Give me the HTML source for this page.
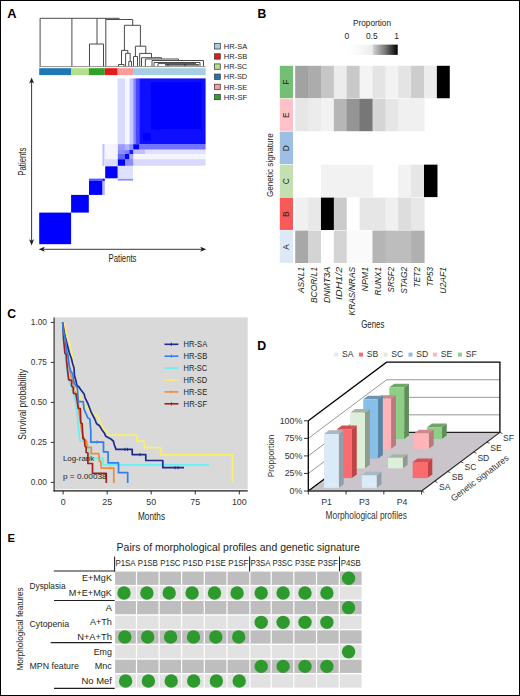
<!DOCTYPE html>
<html><head><meta charset="utf-8"><style>
html,body{margin:0;padding:0;background:#fff;overflow:hidden;}
svg{display:block;}
text{font-family:"Liberation Sans", sans-serif;}
</style></head><body>
<svg width="520" height="696" viewBox="0 0 520 696">
<rect x="0" y="0" width="520" height="696" fill="#fff"/>
<text x="7.3" y="17.6" font-size="12.8" fill="#000" font-weight="bold" >A</text>
<line x1="40.1" y1="18.3" x2="40.1" y2="66.5" stroke="#4a4a4a" stroke-width="1.0" />
<line x1="71.9" y1="18.3" x2="71.9" y2="66.5" stroke="#4a4a4a" stroke-width="1.0" />
<line x1="40.1" y1="18.3" x2="119.5" y2="18.3" stroke="#4a4a4a" stroke-width="1.0" />
<line x1="97" y1="18.3" x2="97" y2="44" stroke="#4a4a4a" stroke-width="1.0" />
<line x1="89.5" y1="44" x2="103.5" y2="44" stroke="#4a4a4a" stroke-width="1.0" />
<line x1="89.5" y1="44" x2="89.5" y2="66.5" stroke="#4a4a4a" stroke-width="1.0" />
<line x1="103.5" y1="44" x2="103.5" y2="66.5" stroke="#4a4a4a" stroke-width="1.0" />
<line x1="105.8" y1="18.3" x2="105.8" y2="66.5" stroke="#4a4a4a" stroke-width="1.0" />
<line x1="105.8" y1="19.5" x2="132.7" y2="19.5" stroke="#4a4a4a" stroke-width="1.0" />
<line x1="132.7" y1="19.5" x2="132.7" y2="25.3" stroke="#4a4a4a" stroke-width="1.0" />
<line x1="124.4" y1="25.3" x2="140.4" y2="25.3" stroke="#4a4a4a" stroke-width="1.0" />
<line x1="124.4" y1="25.3" x2="124.4" y2="50.4" stroke="#4a4a4a" stroke-width="1.0" />
<line x1="121.5" y1="50.4" x2="127.8" y2="50.4" stroke="#4a4a4a" stroke-width="1.0" />
<line x1="121.5" y1="50.4" x2="121.5" y2="64.5" stroke="#4a4a4a" stroke-width="1.0" />
<line x1="118.5" y1="64.5" x2="124" y2="64.5" stroke="#4a4a4a" stroke-width="1.0" />
<line x1="118.5" y1="64.5" x2="118.5" y2="66.5" stroke="#4a4a4a" stroke-width="1.0" />
<line x1="124" y1="64.5" x2="124" y2="66.5" stroke="#4a4a4a" stroke-width="1.0" />
<line x1="127.8" y1="50.4" x2="127.8" y2="53.3" stroke="#4a4a4a" stroke-width="1.0" />
<line x1="125.6" y1="53.3" x2="130.2" y2="53.3" stroke="#4a4a4a" stroke-width="1.0" />
<line x1="125.6" y1="53.3" x2="125.6" y2="66.5" stroke="#4a4a4a" stroke-width="1.0" />
<line x1="130.2" y1="53.3" x2="130.2" y2="61.4" stroke="#4a4a4a" stroke-width="1.0" />
<line x1="128.8" y1="61.4" x2="131.5" y2="61.4" stroke="#4a4a4a" stroke-width="1.0" />
<line x1="128.8" y1="61.4" x2="128.8" y2="66.5" stroke="#4a4a4a" stroke-width="1.0" />
<line x1="131.5" y1="61.4" x2="131.5" y2="66.5" stroke="#4a4a4a" stroke-width="1.0" />
<line x1="140.4" y1="25.3" x2="140.4" y2="46.2" stroke="#4a4a4a" stroke-width="1.0" />
<line x1="135.4" y1="46.2" x2="145.8" y2="46.2" stroke="#4a4a4a" stroke-width="1.0" />
<line x1="135.4" y1="46.2" x2="135.4" y2="56.5" stroke="#4a4a4a" stroke-width="1.0" />
<line x1="133.5" y1="56.5" x2="137.5" y2="56.5" stroke="#4a4a4a" stroke-width="1.0" />
<line x1="133.5" y1="56.5" x2="133.5" y2="66.5" stroke="#4a4a4a" stroke-width="1.0" />
<line x1="137.5" y1="56.5" x2="137.5" y2="66.5" stroke="#4a4a4a" stroke-width="1.0" />
<line x1="145.8" y1="46.2" x2="145.8" y2="53.4" stroke="#4a4a4a" stroke-width="1.0" />
<line x1="139.7" y1="53.4" x2="151.5" y2="53.4" stroke="#4a4a4a" stroke-width="1.0" />
<line x1="139.7" y1="53.4" x2="139.7" y2="66.5" stroke="#4a4a4a" stroke-width="1.0" />
<line x1="151.5" y1="53.4" x2="151.5" y2="57.7" stroke="#4a4a4a" stroke-width="1.0" />
<line x1="141.5" y1="57.7" x2="161.5" y2="57.7" stroke="#4a4a4a" stroke-width="1.0" />
<line x1="141.5" y1="57.7" x2="141.5" y2="66.5" stroke="#4a4a4a" stroke-width="1.0" />
<line x1="161.5" y1="57.7" x2="161.5" y2="59" stroke="#4a4a4a" stroke-width="1.0" />
<line x1="145.4" y1="59" x2="178.5" y2="59" stroke="#4a4a4a" stroke-width="1.0" />
<line x1="145.4" y1="59" x2="145.4" y2="66.5" stroke="#4a4a4a" stroke-width="1.0" />
<line x1="178.5" y1="59" x2="178.5" y2="60.5" stroke="#4a4a4a" stroke-width="1.0" />
<line x1="152" y1="60.5" x2="203.5" y2="60.5" stroke="#4a4a4a" stroke-width="1.0" />
<line x1="152" y1="60.5" x2="152" y2="66.5" stroke="#4a4a4a" stroke-width="1.0" />
<line x1="203.5" y1="60.5" x2="203.5" y2="66.5" stroke="#4a4a4a" stroke-width="1.0" />
<line x1="154" y1="62.5" x2="200" y2="62.5" stroke="#4a4a4a" stroke-width="1.0" />
<line x1="154" y1="62.5" x2="154" y2="66.5" stroke="#4a4a4a" stroke-width="1.0" />
<line x1="200" y1="62.5" x2="200" y2="66.5" stroke="#4a4a4a" stroke-width="1.0" />
<line x1="158" y1="63.6" x2="196" y2="63.6" stroke="#4a4a4a" stroke-width="1.0" />
<line x1="158" y1="63.6" x2="158" y2="66.5" stroke="#4a4a4a" stroke-width="1.0" />
<line x1="168" y1="63.6" x2="168" y2="66.5" stroke="#4a4a4a" stroke-width="1.0" />
<line x1="185" y1="63.6" x2="185" y2="66.5" stroke="#4a4a4a" stroke-width="1.0" />
<line x1="165" y1="64.8" x2="199" y2="64.8" stroke="#222" stroke-width="1.2" />
<line x1="39.3" y1="66.6" x2="205.6" y2="66.6" stroke="#8a837f" stroke-width="0.9" />
<rect x="39.20" y="68.20" width="31.90" height="6.90" fill="#1f78b4" />
<rect x="71.10" y="68.20" width="17.70" height="6.90" fill="#b2df8a" />
<rect x="88.80" y="68.20" width="16.00" height="6.90" fill="#33a02c" />
<rect x="104.80" y="68.20" width="12.90" height="6.90" fill="#e31a1c" />
<rect x="117.70" y="68.20" width="15.30" height="6.90" fill="#fb9a99" />
<rect x="133.00" y="68.20" width="72.60" height="6.90" fill="#a6cee3" />
<rect x="214.50" y="43.60" width="5.80" height="5.40" fill="#a6cee3" stroke="#333" stroke-width="0.7"/>
<text x="223.8" y="49.0" font-size="7.4" fill="#231f20" textLength="23.4" lengthAdjust="spacingAndGlyphs" >HR-SA</text>
<rect x="214.50" y="53.75" width="5.80" height="5.40" fill="#e31a1c" stroke="#333" stroke-width="0.7"/>
<text x="223.8" y="59.15" font-size="7.4" fill="#231f20" textLength="23.4" lengthAdjust="spacingAndGlyphs" >HR-SB</text>
<rect x="214.50" y="63.90" width="5.80" height="5.40" fill="#b2df8a" stroke="#333" stroke-width="0.7"/>
<text x="223.8" y="69.30000000000001" font-size="7.4" fill="#231f20" textLength="23.4" lengthAdjust="spacingAndGlyphs" >HR-SC</text>
<rect x="214.50" y="74.05" width="5.80" height="5.40" fill="#1f78b4" stroke="#333" stroke-width="0.7"/>
<text x="223.8" y="79.45000000000002" font-size="7.4" fill="#231f20" textLength="23.4" lengthAdjust="spacingAndGlyphs" >HR-SD</text>
<rect x="214.50" y="84.20" width="5.80" height="5.40" fill="#fb9a99" stroke="#333" stroke-width="0.7"/>
<text x="223.8" y="89.60000000000001" font-size="7.4" fill="#231f20" textLength="23.4" lengthAdjust="spacingAndGlyphs" >HR-SE</text>
<rect x="214.50" y="94.35" width="5.80" height="5.40" fill="#33a02c" stroke="#333" stroke-width="0.7"/>
<text x="223.8" y="99.75" font-size="7.4" fill="#231f20" textLength="23.4" lengthAdjust="spacingAndGlyphs" >HR-SF</text>
<rect x="39.20" y="212.60" width="31.90" height="31.60" fill="#0000ff" fill-opacity="1"/>
<rect x="71.10" y="194.90" width="17.70" height="17.70" fill="#0000ff" fill-opacity="1"/>
<rect x="89.00" y="181.00" width="13.30" height="13.90" fill="#0000ff" fill-opacity="1"/>
<rect x="89.00" y="178.60" width="13.30" height="2.40" fill="#0000ff" fill-opacity="0.65"/>
<rect x="102.30" y="178.60" width="2.50" height="2.40" fill="#0000ff" fill-opacity="0.9"/>
<rect x="102.30" y="181.00" width="2.50" height="13.90" fill="#0000ff" fill-opacity="0.3"/>
<rect x="105.20" y="166.30" width="12.40" height="12.00" fill="#0000ff" fill-opacity="1"/>
<rect x="117.70" y="166.00" width="15.30" height="12.50" fill="#0000ff" fill-opacity="0.12"/>
<rect x="117.70" y="178.80" width="15.30" height="1.80" fill="#0000ff" fill-opacity="0.45"/>
<rect x="105.00" y="144.00" width="12.70" height="15.20" fill="#0000ff" fill-opacity="0.04"/>
<rect x="105.00" y="159.20" width="12.70" height="6.60" fill="#0000ff" fill-opacity="0.14"/>
<rect x="102.50" y="144.00" width="2.00" height="22.00" fill="#0000ff" fill-opacity="0.25"/>
<rect x="117.80" y="159.20" width="7.20" height="6.60" fill="#0000ff" fill-opacity="1"/>
<rect x="125.00" y="154.00" width="4.30" height="5.20" fill="#0000ff" fill-opacity="1"/>
<rect x="129.30" y="150.00" width="3.90" height="4.00" fill="#0000ff" fill-opacity="0.9"/>
<rect x="117.80" y="154.00" width="7.20" height="5.20" fill="#0000ff" fill-opacity="0.6"/>
<rect x="125.00" y="159.20" width="8.20" height="6.60" fill="#0000ff" fill-opacity="0.45"/>
<rect x="117.80" y="150.00" width="7.20" height="4.00" fill="#0000ff" fill-opacity="0.45"/>
<rect x="129.30" y="154.00" width="3.90" height="5.20" fill="#0000ff" fill-opacity="0.35"/>
<rect x="125.00" y="150.00" width="4.30" height="4.00" fill="#0000ff" fill-opacity="0.5"/>
<rect x="117.80" y="144.20" width="7.20" height="5.80" fill="#0000ff" fill-opacity="0.4"/>
<rect x="125.00" y="144.20" width="4.30" height="5.80" fill="#0000ff" fill-opacity="0.3"/>
<rect x="129.30" y="144.20" width="3.90" height="5.80" fill="#0000ff" fill-opacity="0.45"/>
<rect x="117.50" y="78.40" width="7.50" height="65.80" fill="#0000ff" fill-opacity="0.14"/>
<rect x="125.00" y="78.40" width="4.60" height="65.80" fill="#0000ff" fill-opacity="0.03"/>
<rect x="129.60" y="78.40" width="3.60" height="65.80" fill="#0000ff" fill-opacity="0.22"/>
<rect x="133.20" y="149.50" width="11.80" height="4.50" fill="#0000ff" fill-opacity="0.25"/>
<rect x="145.00" y="149.50" width="60.60" height="4.50" fill="#0000ff" fill-opacity="0.12"/>
<rect x="133.20" y="154.00" width="72.40" height="5.20" fill="#0000ff" fill-opacity="0.04"/>
<rect x="133.20" y="159.20" width="72.40" height="6.60" fill="#0000ff" fill-opacity="0.15"/>
<rect x="133.20" y="78.40" width="2.20" height="65.80" fill="#0000ff" fill-opacity="0.45"/>
<rect x="135.40" y="78.40" width="3.80" height="65.80" fill="#0000ff" fill-opacity="0.72"/>
<rect x="139.20" y="78.40" width="66.40" height="65.80" fill="#0000ff" fill-opacity="0.94"/>
<rect x="150.80" y="82.20" width="50.70" height="46.80" fill="#0000ff" fill-opacity="1"/>
<rect x="153.80" y="123.00" width="7.00" height="6.80" fill="#0000ff" fill-opacity="1"/>
<rect x="143.00" y="133.00" width="7.80" height="7.60" fill="#0000ff" fill-opacity="1"/>
<rect x="139.20" y="144.20" width="66.40" height="5.30" fill="#0000ff" fill-opacity="0.55"/>
<rect x="133.20" y="144.20" width="6.00" height="5.30" fill="#0000ff" fill-opacity="1"/>
<line x1="31.6" y1="79.5" x2="31.6" y2="243" stroke="#231f20" stroke-width="0.9" />
<polygon points="31.60,77.50 29.10,83.60 31.60,82.10 34.10,83.60" fill="#231f20" />
<polygon points="31.60,245.40 29.10,239.30 31.60,240.80 34.10,239.30" fill="#231f20" />
<line x1="41" y1="249.3" x2="204" y2="249.3" stroke="#231f20" stroke-width="0.9" />
<polygon points="38.70,249.30 44.80,246.80 43.30,249.30 44.80,251.80" fill="#231f20" />
<polygon points="206.30,249.30 200.20,246.80 201.70,249.30 200.20,251.80" fill="#231f20" />
<text x="122.5" y="262" font-size="10.5" fill="#231f20" text-anchor="middle" textLength="28" lengthAdjust="spacingAndGlyphs" >Patients</text>
<text x="26.2" y="161.7" font-size="10.5" fill="#231f20" text-anchor="middle" textLength="28" lengthAdjust="spacingAndGlyphs" transform="rotate(-90 26.2 161.7)" >Patients</text>
<text x="257.6" y="17.9" font-size="12.2" fill="#000" font-weight="bold" >B</text>
<text x="372" y="26.2" font-size="9.2" fill="#231f20" text-anchor="middle" textLength="38" lengthAdjust="spacingAndGlyphs" >Proportion</text>
<text x="346.9" y="39.2" font-size="8.5" fill="#231f20" text-anchor="middle" >0</text>
<text x="371.8" y="39.2" font-size="8.5" fill="#231f20" text-anchor="middle" textLength="11.7" lengthAdjust="spacingAndGlyphs" >0.5</text>
<text x="396.6" y="39.2" font-size="8.5" fill="#231f20" text-anchor="middle" >1</text>
<defs><linearGradient id="gb" x1="0" x2="1" y1="0" y2="0"><stop offset="0" stop-color="#ffffff"/><stop offset="0.3" stop-color="#f7f7f7"/><stop offset="0.5" stop-color="#ececec"/><stop offset="0.52" stop-color="#cfcfcf"/><stop offset="0.75" stop-color="#7a7a7a"/><stop offset="1" stop-color="#000000"/></linearGradient></defs>
<rect x="347.00" y="44.60" width="50.70" height="10.30" fill="url(#gb)" />
<rect x="279.80" y="65.80" width="13.20" height="32.35" fill="#73bf73" />
<text x="288.7" y="82.275" font-size="8.4" fill="#231f20" text-anchor="middle" transform="rotate(-90 288.7 82.275)" >F</text>
<rect x="279.80" y="98.75" width="13.20" height="32.35" fill="#ffc2c9" />
<text x="288.7" y="115.225" font-size="8.4" fill="#231f20" text-anchor="middle" transform="rotate(-90 288.7 115.225)" >E</text>
<rect x="279.80" y="131.70" width="13.20" height="32.35" fill="#9dbfe4" />
<text x="288.7" y="148.17499999999998" font-size="8.4" fill="#231f20" text-anchor="middle" transform="rotate(-90 288.7 148.17499999999998)" >D</text>
<rect x="279.80" y="164.65" width="13.20" height="32.35" fill="#c4e0b1" />
<text x="288.7" y="181.125" font-size="8.4" fill="#231f20" text-anchor="middle" transform="rotate(-90 288.7 181.125)" >C</text>
<rect x="279.80" y="197.60" width="13.20" height="32.35" fill="#f85a5a" />
<text x="288.7" y="214.07500000000002" font-size="8.4" fill="#231f20" text-anchor="middle" transform="rotate(-90 288.7 214.07500000000002)" >B</text>
<rect x="279.80" y="230.55" width="13.20" height="32.35" fill="#dde9f6" />
<text x="288.7" y="247.025" font-size="8.4" fill="#231f20" text-anchor="middle" transform="rotate(-90 288.7 247.025)" >A</text>
<rect x="295.20" y="65.80" width="13.48" height="32.45" fill="#a2a2a2" />
<rect x="308.08" y="65.80" width="13.48" height="32.45" fill="#acacac" />
<rect x="320.96" y="65.80" width="13.48" height="32.45" fill="#c6c6c6" />
<rect x="333.84" y="65.80" width="13.48" height="32.45" fill="#ececec" />
<rect x="346.72" y="65.80" width="13.48" height="32.45" fill="#c9c9c9" />
<rect x="359.60" y="65.80" width="13.48" height="32.45" fill="#f4f4f4" />
<rect x="372.48" y="65.80" width="13.48" height="32.45" fill="#e4e4e4" />
<rect x="385.36" y="65.80" width="13.48" height="32.45" fill="#f2f2f2" />
<rect x="398.24" y="65.80" width="13.48" height="32.45" fill="#e4e4e4" />
<rect x="411.12" y="65.80" width="13.48" height="32.45" fill="#cdcdcd" />
<rect x="424.00" y="65.80" width="13.48" height="32.45" fill="#ececec" />
<rect x="436.88" y="65.80" width="12.88" height="32.45" fill="#000000" />
<rect x="295.20" y="98.75" width="13.48" height="32.45" fill="#e6e6e6" />
<rect x="308.08" y="98.75" width="13.48" height="32.45" fill="#ececec" />
<rect x="320.96" y="98.75" width="13.48" height="32.45" fill="#f2f2f2" />
<rect x="333.84" y="98.75" width="13.48" height="32.45" fill="#b6b6b6" />
<rect x="346.72" y="98.75" width="13.48" height="32.45" fill="#959595" />
<rect x="359.60" y="98.75" width="13.48" height="32.45" fill="#777777" />
<rect x="372.48" y="98.75" width="13.48" height="32.45" fill="#d5d5d5" />
<rect x="385.36" y="98.75" width="13.48" height="32.45" fill="#e6e6e6" />
<rect x="398.24" y="98.75" width="13.48" height="32.45" fill="#f0f0f0" />
<rect x="411.12" y="98.75" width="13.48" height="32.45" fill="#f0f0f0" />
<rect x="320.96" y="164.65" width="13.48" height="32.45" fill="#f2f2f2" />
<rect x="333.84" y="164.65" width="13.48" height="32.45" fill="#f2f2f2" />
<rect x="346.72" y="164.65" width="13.48" height="32.45" fill="#f2f2f2" />
<rect x="359.60" y="164.65" width="13.48" height="32.45" fill="#f2f2f2" />
<rect x="398.24" y="164.65" width="13.48" height="32.45" fill="#f2f2f2" />
<rect x="411.12" y="164.65" width="13.48" height="32.45" fill="#e6e6e6" />
<rect x="424.00" y="164.65" width="13.48" height="32.45" fill="#000000" />
<rect x="295.20" y="197.60" width="13.48" height="32.45" fill="#f0f0f0" />
<rect x="308.08" y="197.60" width="13.48" height="32.45" fill="#e8e8e8" />
<rect x="320.96" y="197.60" width="13.48" height="32.45" fill="#000000" />
<rect x="333.84" y="197.60" width="13.48" height="32.45" fill="#cbcbcb" />
<rect x="346.72" y="197.60" width="13.48" height="32.45" fill="#ffffff" />
<rect x="359.60" y="197.60" width="13.48" height="32.45" fill="#e6e6e6" />
<rect x="372.48" y="197.60" width="13.48" height="32.45" fill="#e6e6e6" />
<rect x="385.36" y="197.60" width="13.48" height="32.45" fill="#f0f0f0" />
<rect x="398.24" y="197.60" width="13.48" height="32.45" fill="#dddddd" />
<rect x="411.12" y="197.60" width="13.48" height="32.45" fill="#e8e8e8" />
<rect x="295.20" y="230.55" width="13.48" height="32.45" fill="#a8a8a8" />
<rect x="308.08" y="230.55" width="13.48" height="32.45" fill="#d4d4d4" />
<rect x="320.96" y="230.55" width="13.48" height="32.45" fill="#ffffff" />
<rect x="333.84" y="230.55" width="13.48" height="32.45" fill="#d4d4d4" />
<rect x="346.72" y="230.55" width="13.48" height="32.45" fill="#fafafa" />
<rect x="359.60" y="230.55" width="13.48" height="32.45" fill="#fafafa" />
<rect x="372.48" y="230.55" width="13.48" height="32.45" fill="#b5b5b5" />
<rect x="385.36" y="230.55" width="13.48" height="32.45" fill="#bdbdbd" />
<rect x="398.24" y="230.55" width="13.48" height="32.45" fill="#bdbdbd" />
<rect x="411.12" y="230.55" width="13.48" height="32.45" fill="#b0b0b0" />
<text x="303.84" y="266.9" font-size="8.6" fill="#231f20" text-anchor="end" font-style="italic" textLength="26.2" lengthAdjust="spacingAndGlyphs" transform="rotate(-90 303.84 266.9)" >ASXL1</text>
<text x="316.71999999999997" y="266.9" font-size="8.6" fill="#231f20" text-anchor="end" font-style="italic" textLength="36.2" lengthAdjust="spacingAndGlyphs" transform="rotate(-90 316.71999999999997 266.9)" >BCOR/L1</text>
<text x="329.59999999999997" y="266.9" font-size="8.6" fill="#231f20" text-anchor="end" font-style="italic" textLength="36.2" lengthAdjust="spacingAndGlyphs" transform="rotate(-90 329.59999999999997 266.9)" >DNMT3A</text>
<text x="342.47999999999996" y="266.9" font-size="8.6" fill="#231f20" text-anchor="end" font-style="italic" textLength="33.1" lengthAdjust="spacingAndGlyphs" transform="rotate(-90 342.47999999999996 266.9)" >IDH1/2</text>
<text x="355.35999999999996" y="266.9" font-size="8.6" fill="#231f20" text-anchor="end" font-style="italic" textLength="48.5" lengthAdjust="spacingAndGlyphs" transform="rotate(-90 355.35999999999996 266.9)" >KRAS/NRAS</text>
<text x="368.24" y="266.9" font-size="8.6" fill="#231f20" text-anchor="end" font-style="italic" textLength="24.5" lengthAdjust="spacingAndGlyphs" transform="rotate(-90 368.24 266.9)" >NPM1</text>
<text x="381.12" y="266.9" font-size="8.6" fill="#231f20" text-anchor="end" font-style="italic" textLength="28.5" lengthAdjust="spacingAndGlyphs" transform="rotate(-90 381.12 266.9)" >RUNX1</text>
<text x="394.0" y="266.9" font-size="8.6" fill="#231f20" text-anchor="end" font-style="italic" textLength="25.5" lengthAdjust="spacingAndGlyphs" transform="rotate(-90 394.0 266.9)" >SRSF2</text>
<text x="406.88" y="266.9" font-size="8.6" fill="#231f20" text-anchor="end" font-style="italic" textLength="26.9" lengthAdjust="spacingAndGlyphs" transform="rotate(-90 406.88 266.9)" >STAG2</text>
<text x="419.76" y="266.9" font-size="8.6" fill="#231f20" text-anchor="end" font-style="italic" textLength="20.5" lengthAdjust="spacingAndGlyphs" transform="rotate(-90 419.76 266.9)" >TET2</text>
<text x="432.64" y="266.9" font-size="8.6" fill="#231f20" text-anchor="end" font-style="italic" textLength="19.5" lengthAdjust="spacingAndGlyphs" transform="rotate(-90 432.64 266.9)" >TP53</text>
<text x="445.52" y="266.9" font-size="8.6" fill="#231f20" text-anchor="end" font-style="italic" textLength="26.9" lengthAdjust="spacingAndGlyphs" transform="rotate(-90 445.52 266.9)" >U2AF1</text>
<text x="372.8" y="327.9" font-size="10.2" fill="#231f20" text-anchor="middle" textLength="23" lengthAdjust="spacingAndGlyphs" >Genes</text>
<text x="273.2" y="165.1" font-size="9.8" fill="#231f20" text-anchor="middle" textLength="64" lengthAdjust="spacingAndGlyphs" transform="rotate(-90 273.2 165.1)" >Genetic signature</text>
<text x="7.2" y="318.2" font-size="12.2" fill="#000" font-weight="bold" >C</text>
<rect x="55.00" y="317.40" width="192.70" height="171.80" fill="#d9d9d9" />
<line x1="54.1" y1="317.4" x2="54.1" y2="491.4" stroke="#1a1a1a" stroke-width="1.1" />
<line x1="53.6" y1="490.9" x2="247.7" y2="490.9" stroke="#1a1a1a" stroke-width="1.1" />
<line x1="50.8" y1="322.4" x2="54" y2="322.4" stroke="#1a1a1a" stroke-width="0.9" />
<text x="47.0" y="325.4" font-size="8.7" fill="#333" text-anchor="end" textLength="16.2" lengthAdjust="spacingAndGlyphs" >1.00</text>
<line x1="50.8" y1="362.4" x2="54" y2="362.4" stroke="#1a1a1a" stroke-width="0.9" />
<text x="47.0" y="365.4" font-size="8.7" fill="#333" text-anchor="end" textLength="16.2" lengthAdjust="spacingAndGlyphs" >0.75</text>
<line x1="50.8" y1="402.4" x2="54" y2="402.4" stroke="#1a1a1a" stroke-width="0.9" />
<text x="47.0" y="405.4" font-size="8.7" fill="#333" text-anchor="end" textLength="16.2" lengthAdjust="spacingAndGlyphs" >0.50</text>
<line x1="50.8" y1="442.4" x2="54" y2="442.4" stroke="#1a1a1a" stroke-width="0.9" />
<text x="47.0" y="445.4" font-size="8.7" fill="#333" text-anchor="end" textLength="16.2" lengthAdjust="spacingAndGlyphs" >0.25</text>
<line x1="50.8" y1="482.4" x2="54" y2="482.4" stroke="#1a1a1a" stroke-width="0.9" />
<text x="47.0" y="485.4" font-size="8.7" fill="#333" text-anchor="end" textLength="16.2" lengthAdjust="spacingAndGlyphs" >0.00</text>
<line x1="63.1" y1="491" x2="63.1" y2="494.4" stroke="#1a1a1a" stroke-width="0.9" />
<text x="63.1" y="505.1" font-size="8.9" fill="#333" text-anchor="middle" >0</text>
<line x1="107.15" y1="491" x2="107.15" y2="494.4" stroke="#1a1a1a" stroke-width="0.9" />
<text x="107.15" y="505.1" font-size="8.9" fill="#333" text-anchor="middle" >25</text>
<line x1="151.2" y1="491" x2="151.2" y2="494.4" stroke="#1a1a1a" stroke-width="0.9" />
<text x="151.2" y="505.1" font-size="8.9" fill="#333" text-anchor="middle" >50</text>
<line x1="195.24999999999997" y1="491" x2="195.24999999999997" y2="494.4" stroke="#1a1a1a" stroke-width="0.9" />
<text x="195.24999999999997" y="505.1" font-size="8.9" fill="#333" text-anchor="middle" >75</text>
<line x1="239.29999999999998" y1="491" x2="239.29999999999998" y2="494.4" stroke="#1a1a1a" stroke-width="0.9" />
<text x="239.29999999999998" y="505.1" font-size="8.9" fill="#333" text-anchor="middle" >100</text>
<text x="151.5" y="519.7" font-size="10" fill="#231f20" text-anchor="middle" textLength="27" lengthAdjust="spacingAndGlyphs" >Months</text>
<text x="26.4" y="404.4" font-size="11.0" fill="#231f20" text-anchor="middle" textLength="70.5" lengthAdjust="spacingAndGlyphs" transform="rotate(-90 26.4 404.4)" >Survival probability</text>
<polyline points="62.70,322.30 63.20,335.20 64.00,343.90 64.90,352.50 65.80,361.10 66.60,369.70 68.70,380.60 71.10,386.30 73.10,392.10 75.50,401.70 77.40,415.20 78.80,431.50 79.80,441.00 87.30,441.50 87.90,448.50 89.00,449.00 90.00,455.00 90.80,458.30 102.90,458.30 102.90,464.80 209.10,464.80" fill="none" stroke="#66f0f2" stroke-width="1.7" stroke-linejoin="round"/>
<polyline points="62.70,322.30 64.50,329.20 65.30,337.80 66.20,343.90 67.10,352.50 68.30,359.40 69.20,366.30 70.70,374.80 72.10,379.60 74.50,386.30 76.40,393.00 78.30,401.70 78.80,408.50 79.80,418.10 80.80,423.80 81.70,431.50 82.50,433.50 84.40,439.80 86.20,440.40 87.30,447.30 91.30,447.30 91.30,453.70 98.80,453.70 99.40,461.20 100.60,461.20 101.20,468.10 113.80,468.10 113.80,483.10" fill="none" stroke="#f28a3b" stroke-width="1.7" stroke-linejoin="round"/>
<polyline points="62.70,322.30 63.20,331.00 63.60,339.60 64.50,348.20 64.90,353.30 66.20,354.20 66.60,361.10 67.50,369.70 68.70,379.60 71.60,380.60 71.60,385.90 73.10,387.30 73.50,393.10 75.90,394.00 77.40,402.70 78.30,408.50 80.30,408.50 80.80,422.90 82.20,423.80 82.90,438.70 84.40,439.20 85.00,446.20 86.20,447.30 86.20,452.50 87.90,453.00 87.90,463.50 92.50,463.50 92.50,473.30 106.30,473.30 106.30,483.10" fill="none" stroke="#a01f1f" stroke-width="1.7" stroke-linejoin="round"/>
<polyline points="62.70,322.30 64.90,324.90 66.20,331.80 67.50,337.80 69.20,340.40 70.50,346.40 71.80,352.50 73.10,360.20 74.00,366.30 74.40,372.00 74.70,380.00 75.20,384.40 76.40,391.20 79.80,395.00 81.20,399.80 85.10,406.50 88.00,408.50 90.80,412.30 97.60,416.20 100.50,421.90 103.30,428.70 106.90,431.70 108.10,435.20 136.90,435.20 136.90,441.10 144.20,441.10 144.20,447.60 160.60,447.60 160.60,454.90 232.50,454.90 232.50,482.20" fill="none" stroke="#f8ef6c" stroke-width="1.7" stroke-linejoin="round"/>
<polyline points="62.70,322.30 63.20,326.60 64.00,332.70 65.30,337.00 66.60,342.10 67.90,347.30 69.20,352.50 71.40,358.50 72.70,363.70 74.00,368.00 74.50,375.80 75.90,380.60 76.90,385.40 78.80,386.80 81.20,390.20 84.10,394.00 85.10,397.90 88.00,403.70 90.80,411.30 94.70,419.00 96.60,423.80 99.50,425.80 102.40,430.60 104.60,433.50 105.80,436.30 110.40,438.70 113.30,441.00 114.40,445.00 116.00,449.40 132.20,449.40 132.20,454.60 145.80,454.60 145.80,460.50 162.80,460.50 162.80,467.70 184.00,467.70" fill="none" stroke="#1d2b8f" stroke-width="1.7" stroke-linejoin="round"/>
<polyline points="62.70,322.30 63.20,331.00 64.50,335.20 65.80,342.10 66.20,350.80 67.90,355.10 69.20,365.40 70.90,371.40 72.60,373.80 74.00,382.50 77.40,388.30 78.30,401.70 83.20,401.70 84.10,409.40 88.00,418.10 89.90,419.00 90.80,431.50 90.80,442.10 103.50,442.10 103.50,451.90 108.10,451.90 108.10,462.90 118.50,462.90 118.50,472.70 127.70,472.70 127.70,483.10" fill="none" stroke="#2e7ff2" stroke-width="1.7" stroke-linejoin="round"/>
<line x1="125" y1="447.79999999999995" x2="125" y2="451.0" stroke="#1d2b8f" stroke-width="0.9" />
<line x1="127.5" y1="447.79999999999995" x2="127.5" y2="451.0" stroke="#1d2b8f" stroke-width="0.9" />
<line x1="140" y1="453.0" x2="140" y2="456.20000000000005" stroke="#1d2b8f" stroke-width="0.9" />
<line x1="175" y1="466.09999999999997" x2="175" y2="469.3" stroke="#1d2b8f" stroke-width="0.9" />
<line x1="178" y1="466.09999999999997" x2="178" y2="469.3" stroke="#1d2b8f" stroke-width="0.9" />
<line x1="118" y1="433.59999999999997" x2="118" y2="436.8" stroke="#f8ef6c" stroke-width="0.9" />
<line x1="124" y1="433.59999999999997" x2="124" y2="436.8" stroke="#f8ef6c" stroke-width="0.9" />
<line x1="185" y1="453.29999999999995" x2="185" y2="456.5" stroke="#f8ef6c" stroke-width="0.9" />
<line x1="205" y1="453.29999999999995" x2="205" y2="456.5" stroke="#f8ef6c" stroke-width="0.9" />
<line x1="220" y1="453.29999999999995" x2="220" y2="456.5" stroke="#f8ef6c" stroke-width="0.9" />
<line x1="150" y1="463.2" x2="150" y2="466.40000000000003" stroke="#66f0f2" stroke-width="0.9" />
<line x1="190" y1="463.2" x2="190" y2="466.40000000000003" stroke="#66f0f2" stroke-width="0.9" />
<line x1="97" y1="440.5" x2="97" y2="443.70000000000005" stroke="#2e7ff2" stroke-width="0.9" />
<line x1="110" y1="466.5" x2="110" y2="469.70000000000005" stroke="#f28a3b" stroke-width="0.9" />
<text x="62.9" y="460.6" font-size="7.9" fill="#231f20" textLength="31.3" lengthAdjust="spacingAndGlyphs" >Log-rank</text>
<text x="62.9" y="478.7" font-size="7.9" fill="#231f20" textLength="43.8" lengthAdjust="spacingAndGlyphs" >p = 0.00038</text>
<line x1="164.5" y1="344.3" x2="178.4" y2="344.3" stroke="#1d2b8f" stroke-width="1.6" />
<line x1="171.4" y1="342.7" x2="171.4" y2="345.90000000000003" stroke="#1d2b8f" stroke-width="0.9" />
<text x="183.6" y="347.3" font-size="8.5" fill="#231f20" textLength="23.6" lengthAdjust="spacingAndGlyphs" >HR-SA</text>
<line x1="164.5" y1="356.2" x2="178.4" y2="356.2" stroke="#2e7ff2" stroke-width="1.6" />
<line x1="171.4" y1="354.59999999999997" x2="171.4" y2="357.8" stroke="#2e7ff2" stroke-width="0.9" />
<text x="183.6" y="359.2" font-size="8.5" fill="#231f20" textLength="23.6" lengthAdjust="spacingAndGlyphs" >HR-SB</text>
<line x1="164.5" y1="368.1" x2="178.4" y2="368.1" stroke="#66f0f2" stroke-width="1.6" />
<line x1="171.4" y1="366.5" x2="171.4" y2="369.70000000000005" stroke="#66f0f2" stroke-width="0.9" />
<text x="183.6" y="371.1" font-size="8.5" fill="#231f20" textLength="23.6" lengthAdjust="spacingAndGlyphs" >HR-SC</text>
<line x1="164.5" y1="380.0" x2="178.4" y2="380.0" stroke="#f8ef6c" stroke-width="1.6" />
<line x1="171.4" y1="378.4" x2="171.4" y2="381.6" stroke="#f8ef6c" stroke-width="0.9" />
<text x="183.6" y="383.0" font-size="8.5" fill="#231f20" textLength="23.6" lengthAdjust="spacingAndGlyphs" >HR-SD</text>
<line x1="164.5" y1="391.90000000000003" x2="178.4" y2="391.90000000000003" stroke="#f28a3b" stroke-width="1.6" />
<line x1="171.4" y1="390.3" x2="171.4" y2="393.50000000000006" stroke="#f28a3b" stroke-width="0.9" />
<text x="183.6" y="394.90000000000003" font-size="8.5" fill="#231f20" textLength="23.6" lengthAdjust="spacingAndGlyphs" >HR-SE</text>
<line x1="164.5" y1="403.8" x2="178.4" y2="403.8" stroke="#a01f1f" stroke-width="1.6" />
<line x1="171.4" y1="402.2" x2="171.4" y2="405.40000000000003" stroke="#a01f1f" stroke-width="0.9" />
<text x="183.6" y="406.8" font-size="8.5" fill="#231f20" textLength="23.6" lengthAdjust="spacingAndGlyphs" >HR-SF</text>
<text x="257.3" y="350.4" font-size="12.4" fill="#000" font-weight="bold" >D</text>
<polygon points="308.30,491.00 421.61,491.00 499.91,432.40 386.60,432.40" fill="#c9c5ca" />
<line x1="386.6" y1="414.84999999999997" x2="499.91" y2="414.84999999999997" stroke="#8c8c8c" stroke-width="0.9" />
<line x1="308.3" y1="473.45" x2="386.6" y2="414.84999999999997" stroke="#8c8c8c" stroke-width="0.9" />
<line x1="386.6" y1="397.29999999999995" x2="499.91" y2="397.29999999999995" stroke="#8c8c8c" stroke-width="0.9" />
<line x1="308.3" y1="455.9" x2="386.6" y2="397.29999999999995" stroke="#8c8c8c" stroke-width="0.9" />
<line x1="386.6" y1="379.75" x2="499.91" y2="379.75" stroke="#8c8c8c" stroke-width="0.9" />
<line x1="308.3" y1="438.35" x2="386.6" y2="379.75" stroke="#8c8c8c" stroke-width="0.9" />
<polyline points="308.30,420.80 386.60,362.20 499.91,362.20 499.91,432.40" fill="none" stroke="#000" stroke-width="1.3" />
<polyline points="386.60,432.40 499.91,432.40" fill="none" stroke="#222" stroke-width="1.2" />
<line x1="308.3" y1="420.8" x2="308.3" y2="491.5" stroke="#000" stroke-width="1.3" />
<line x1="308.3" y1="491.0" x2="386.6" y2="432.4" stroke="#000" stroke-width="1.3" />
<line x1="308.3" y1="491.0" x2="421.61" y2="491.0" stroke="#333" stroke-width="1.5" />
<line x1="421.61" y1="491.0" x2="499.91" y2="432.4" stroke="#222" stroke-width="1.1" />
<line x1="304.0" y1="491.0" x2="308.3" y2="491.0" stroke="#222" stroke-width="0.9" />
<line x1="304.0" y1="473.45" x2="308.3" y2="473.45" stroke="#222" stroke-width="0.9" />
<line x1="304.0" y1="455.9" x2="308.3" y2="455.9" stroke="#222" stroke-width="0.9" />
<line x1="304.0" y1="438.35" x2="308.3" y2="438.35" stroke="#222" stroke-width="0.9" />
<line x1="304.0" y1="420.8" x2="308.3" y2="420.8" stroke="#222" stroke-width="0.9" />
<line x1="308.3" y1="491.0" x2="308.3" y2="494.5" stroke="#222" stroke-width="0.9" />
<line x1="346.07" y1="491.0" x2="346.07" y2="494.5" stroke="#222" stroke-width="0.9" />
<line x1="383.84000000000003" y1="491.0" x2="383.84000000000003" y2="494.5" stroke="#222" stroke-width="0.9" />
<line x1="421.61" y1="491.0" x2="421.61" y2="494.5" stroke="#222" stroke-width="0.9" />
<line x1="421.61" y1="491.0" x2="424.21000000000004" y2="492.2" stroke="#222" stroke-width="0.8" />
<line x1="434.66" y1="481.23333333333335" x2="437.26000000000005" y2="482.43333333333334" stroke="#222" stroke-width="0.8" />
<line x1="447.71000000000004" y1="471.46666666666664" x2="450.31000000000006" y2="472.66666666666663" stroke="#222" stroke-width="0.8" />
<line x1="460.76" y1="461.7" x2="463.36" y2="462.9" stroke="#222" stroke-width="0.8" />
<line x1="473.81" y1="451.93333333333334" x2="476.41" y2="453.1333333333333" stroke="#222" stroke-width="0.8" />
<line x1="486.86" y1="442.1666666666667" x2="489.46000000000004" y2="443.3666666666667" stroke="#222" stroke-width="0.8" />
<line x1="499.91" y1="432.4" x2="502.51000000000005" y2="433.59999999999997" stroke="#222" stroke-width="0.8" />
<polygon points="404.13,439.04 408.95,435.43 408.95,383.63 404.13,387.24" fill="#5e8f58" />
<polygon points="389.33,387.24 404.13,387.24 408.95,383.63 394.15,383.63" fill="#70a56b" />
<rect x="389.33" y="387.24" width="14.80" height="51.80" fill="#8ccf85" />
<polygon points="441.90,439.04 446.72,435.43 446.72,423.53 441.90,427.14" fill="#5e8f58" />
<polygon points="427.10,427.14 441.90,427.14 446.72,423.53 431.92,423.53" fill="#70a56b" />
<rect x="427.10" y="427.14" width="14.80" height="11.90" fill="#8ccf85" />
<polygon points="391.08,448.81 395.90,445.19 395.90,395.14 391.08,398.76" fill="#b87a7e" />
<polygon points="376.28,398.76 391.08,398.76 395.90,395.14 381.10,395.14" fill="#cc8a8e" />
<rect x="376.28" y="398.76" width="14.80" height="50.05" fill="#ffb4b9" />
<polygon points="428.85,448.81 433.67,445.19 433.67,429.79 428.85,433.41" fill="#b87a7e" />
<polygon points="414.05,433.41 428.85,433.41 433.67,429.79 418.87,429.79" fill="#cc8a8e" />
<rect x="414.05" y="433.41" width="14.80" height="15.40" fill="#ffb4b9" />
<polygon points="378.03,458.57 382.85,454.96 382.85,395.67 378.03,399.28" fill="#5b84a3" />
<polygon points="363.23,399.28 378.03,399.28 382.85,395.67 368.05,395.67" fill="#6e95b4" />
<rect x="363.23" y="399.28" width="14.80" height="59.29" fill="#87bfe8" />
<polygon points="364.98,468.34 369.80,464.73 369.80,409.08 364.98,412.69" fill="#8f9b8b" />
<polygon points="350.18,412.69 364.98,412.69 369.80,409.08 355.00,409.08" fill="#a8b5a5" />
<rect x="350.18" y="412.69" width="14.80" height="55.65" fill="#ddefd9" />
<polygon points="402.75,468.34 407.57,464.73 407.57,454.23 402.75,457.84" fill="#8f9b8b" />
<polygon points="387.95,457.84 402.75,457.84 407.57,454.23 392.77,454.23" fill="#a8b5a5" />
<rect x="387.95" y="457.84" width="14.80" height="10.50" fill="#ddefd9" />
<polygon points="351.93,478.11 356.75,474.49 356.75,425.49 351.93,429.11" fill="#c04446" />
<polygon points="337.13,429.11 351.93,429.11 356.75,425.49 341.95,425.49" fill="#d35053" />
<rect x="337.13" y="429.11" width="14.80" height="49.00" fill="#f86b6e" />
<polygon points="427.47,478.11 432.29,474.49 432.29,458.39 427.47,462.01" fill="#c04446" />
<polygon points="412.67,462.01 427.47,462.01 432.29,458.39 417.49,458.39" fill="#d35053" />
<rect x="412.67" y="462.01" width="14.80" height="16.10" fill="#f86b6e" />
<polygon points="338.88,487.87 343.70,484.26 343.70,430.36 338.88,433.97" fill="#8fa0aa" />
<polygon points="324.08,433.97 338.88,433.97 343.70,430.36 328.90,430.36" fill="#a9b8c2" />
<rect x="324.08" y="433.97" width="14.80" height="53.90" fill="#dbeaf7" />
<polygon points="376.65,487.87 381.47,484.26 381.47,471.66 376.65,475.27" fill="#8fa0aa" />
<polygon points="361.85,475.27 376.65,475.27 381.47,471.66 366.67,471.66" fill="#a9b8c2" />
<rect x="361.85" y="475.27" width="14.80" height="12.60" fill="#dbeaf7" />
<text x="302.4" y="494.0" font-size="8.9" fill="#333" text-anchor="end" >0%</text>
<text x="302.4" y="476.45" font-size="8.9" fill="#333" text-anchor="end" >25%</text>
<text x="302.4" y="458.9" font-size="8.9" fill="#333" text-anchor="end" >50%</text>
<text x="302.4" y="441.35" font-size="8.9" fill="#333" text-anchor="end" >75%</text>
<text x="302.4" y="423.8" font-size="8.9" fill="#333" text-anchor="end" >100%</text>
<text x="326.585" y="504.8" font-size="8.8" fill="#333" text-anchor="middle" >P1</text>
<text x="364.35499999999996" y="504.8" font-size="8.8" fill="#333" text-anchor="middle" >P3</text>
<text x="402.125" y="504.8" font-size="8.8" fill="#333" text-anchor="middle" >P4</text>
<text x="366.2" y="518.6" font-size="10.4" fill="#333" text-anchor="middle" textLength="81.3" lengthAdjust="spacingAndGlyphs" >Morphological profiles</text>
<text x="273.8" y="455.9" font-size="9.2" fill="#333" text-anchor="middle" textLength="42.7" lengthAdjust="spacingAndGlyphs" transform="rotate(-90 273.8 455.9)" >Propportion</text>
<text x="439.0" y="489.7" font-size="8.6" fill="#333" >SA</text>
<text x="451.8" y="479.97999999999996" font-size="8.6" fill="#333" >SB</text>
<text x="464.6" y="470.26" font-size="8.6" fill="#333" >SC</text>
<text x="477.4" y="460.53999999999996" font-size="8.6" fill="#333" >SD</text>
<text x="490.2" y="450.82" font-size="8.6" fill="#333" >SE</text>
<text x="503.0" y="441.09999999999997" font-size="8.6" fill="#333" >SF</text>
<text x="481.5" y="480.5" font-size="8.9" fill="#333" text-anchor="middle" textLength="70" lengthAdjust="spacingAndGlyphs" transform="rotate(-37.3 481.5 480.5)" >Genetic signatures</text>
<rect x="334.30" y="352.60" width="4.00" height="4.00" fill="#dbeaf7" />
<text x="342.1" y="357.3" font-size="8.6" fill="#333" >SA</text>
<rect x="359.00" y="352.60" width="4.00" height="4.00" fill="#f86b6e" />
<text x="366.8" y="357.3" font-size="8.6" fill="#333" >SB</text>
<rect x="383.50" y="352.60" width="4.00" height="4.00" fill="#ddefd9" />
<text x="391.3" y="357.3" font-size="8.6" fill="#333" >SC</text>
<rect x="408.50" y="352.60" width="4.00" height="4.00" fill="#87bfe8" />
<text x="416.3" y="357.3" font-size="8.6" fill="#333" >SD</text>
<rect x="432.90" y="352.60" width="4.00" height="4.00" fill="#ffb4b9" />
<text x="440.7" y="357.3" font-size="8.6" fill="#333" >SE</text>
<rect x="457.90" y="352.60" width="4.00" height="4.00" fill="#8ccf85" />
<text x="465.7" y="357.3" font-size="8.6" fill="#333" >SF</text>
<text x="7.6" y="541.6" font-size="11.2" fill="#000" font-weight="bold" >E</text>
<text x="116.6" y="551" font-size="10.1" fill="#231f20" textLength="243.3" lengthAdjust="spacingAndGlyphs" >Pairs of morphological profiles and genetic signature</text>
<text x="125.5" y="565.8" font-size="8.6" fill="#231f20" text-anchor="middle" textLength="20.2" lengthAdjust="spacingAndGlyphs" >P1SA</text>
<text x="147.79999999999998" y="565.8" font-size="8.6" fill="#231f20" text-anchor="middle" textLength="20.2" lengthAdjust="spacingAndGlyphs" >P1SB</text>
<text x="170.35" y="565.8" font-size="8.6" fill="#231f20" text-anchor="middle" textLength="20.2" lengthAdjust="spacingAndGlyphs" >P1SC</text>
<text x="192.95" y="565.8" font-size="8.6" fill="#231f20" text-anchor="middle" textLength="20.2" lengthAdjust="spacingAndGlyphs" >P1SD</text>
<text x="215.65" y="565.8" font-size="8.6" fill="#231f20" text-anchor="middle" textLength="20.2" lengthAdjust="spacingAndGlyphs" >P1SE</text>
<text x="238.45" y="565.8" font-size="8.6" fill="#231f20" text-anchor="middle" textLength="20.2" lengthAdjust="spacingAndGlyphs" >P1SF</text>
<text x="260.55" y="565.8" font-size="8.6" fill="#231f20" text-anchor="middle" textLength="20.2" lengthAdjust="spacingAndGlyphs" >P3SA</text>
<text x="282.5" y="565.8" font-size="8.6" fill="#231f20" text-anchor="middle" textLength="20.2" lengthAdjust="spacingAndGlyphs" >P3SC</text>
<text x="305.15000000000003" y="565.8" font-size="8.6" fill="#231f20" text-anchor="middle" textLength="20.2" lengthAdjust="spacingAndGlyphs" >P3SE</text>
<text x="327.90000000000003" y="565.8" font-size="8.6" fill="#231f20" text-anchor="middle" textLength="20.2" lengthAdjust="spacingAndGlyphs" >P3SF</text>
<text x="350.75" y="565.8" font-size="8.6" fill="#231f20" text-anchor="middle" textLength="20.2" lengthAdjust="spacingAndGlyphs" >P4SB</text>
<line x1="114.6" y1="556.5" x2="114.6" y2="571.4" stroke="#231f20" stroke-width="1.05" />
<line x1="249.6" y1="556.5" x2="249.6" y2="571.4" stroke="#231f20" stroke-width="1.05" />
<line x1="339.5" y1="556.5" x2="339.5" y2="571.4" stroke="#231f20" stroke-width="1.05" />
<rect x="115.10" y="571.60" width="20.80" height="13.30" fill="#bebebe" />
<rect x="137.10" y="571.60" width="21.40" height="13.30" fill="#bebebe" />
<rect x="159.70" y="571.60" width="21.30" height="13.30" fill="#bebebe" />
<rect x="182.20" y="571.60" width="21.50" height="13.30" fill="#bebebe" />
<rect x="204.90" y="571.60" width="21.50" height="13.30" fill="#bebebe" />
<rect x="227.60" y="571.60" width="21.70" height="13.30" fill="#bebebe" />
<rect x="250.50" y="571.60" width="20.10" height="13.30" fill="#bebebe" />
<rect x="271.80" y="571.60" width="21.40" height="13.30" fill="#bebebe" />
<rect x="294.40" y="571.60" width="21.50" height="13.30" fill="#bebebe" />
<rect x="317.10" y="571.60" width="21.60" height="13.30" fill="#bebebe" />
<rect x="339.90" y="571.60" width="21.70" height="13.30" fill="#bebebe" />
<text x="111.9" y="581.25" font-size="8.4" fill="#231f20" text-anchor="end" textLength="29.8" lengthAdjust="spacingAndGlyphs" >E+MgK</text>
<rect x="115.10" y="586.28" width="20.80" height="13.30" fill="#e2e2e2" />
<rect x="137.10" y="586.28" width="21.40" height="13.30" fill="#e2e2e2" />
<rect x="159.70" y="586.28" width="21.30" height="13.30" fill="#e2e2e2" />
<rect x="182.20" y="586.28" width="21.50" height="13.30" fill="#e2e2e2" />
<rect x="204.90" y="586.28" width="21.50" height="13.30" fill="#e2e2e2" />
<rect x="227.60" y="586.28" width="21.70" height="13.30" fill="#e2e2e2" />
<rect x="250.50" y="586.28" width="20.10" height="13.30" fill="#e2e2e2" />
<rect x="271.80" y="586.28" width="21.40" height="13.30" fill="#e2e2e2" />
<rect x="294.40" y="586.28" width="21.50" height="13.30" fill="#e2e2e2" />
<rect x="317.10" y="586.28" width="21.60" height="13.30" fill="#e2e2e2" />
<rect x="339.90" y="586.28" width="21.70" height="13.30" fill="#e2e2e2" />
<text x="111.9" y="595.93" font-size="8.4" fill="#231f20" text-anchor="end" textLength="43.099999999999994" lengthAdjust="spacingAndGlyphs" >M+E+MgK</text>
<rect x="115.10" y="600.96" width="20.80" height="13.30" fill="#bebebe" />
<rect x="137.10" y="600.96" width="21.40" height="13.30" fill="#bebebe" />
<rect x="159.70" y="600.96" width="21.30" height="13.30" fill="#bebebe" />
<rect x="182.20" y="600.96" width="21.50" height="13.30" fill="#bebebe" />
<rect x="204.90" y="600.96" width="21.50" height="13.30" fill="#bebebe" />
<rect x="227.60" y="600.96" width="21.70" height="13.30" fill="#bebebe" />
<rect x="250.50" y="600.96" width="20.10" height="13.30" fill="#bebebe" />
<rect x="271.80" y="600.96" width="21.40" height="13.30" fill="#bebebe" />
<rect x="294.40" y="600.96" width="21.50" height="13.30" fill="#bebebe" />
<rect x="317.10" y="600.96" width="21.60" height="13.30" fill="#bebebe" />
<rect x="339.90" y="600.96" width="21.70" height="13.30" fill="#bebebe" />
<text x="111.9" y="610.61" font-size="8.4" fill="#231f20" text-anchor="end" textLength="6.5" lengthAdjust="spacingAndGlyphs" >A</text>
<rect x="115.10" y="615.64" width="20.80" height="13.30" fill="#e2e2e2" />
<rect x="137.10" y="615.64" width="21.40" height="13.30" fill="#e2e2e2" />
<rect x="159.70" y="615.64" width="21.30" height="13.30" fill="#e2e2e2" />
<rect x="182.20" y="615.64" width="21.50" height="13.30" fill="#e2e2e2" />
<rect x="204.90" y="615.64" width="21.50" height="13.30" fill="#e2e2e2" />
<rect x="227.60" y="615.64" width="21.70" height="13.30" fill="#e2e2e2" />
<rect x="250.50" y="615.64" width="20.10" height="13.30" fill="#e2e2e2" />
<rect x="271.80" y="615.64" width="21.40" height="13.30" fill="#e2e2e2" />
<rect x="294.40" y="615.64" width="21.50" height="13.30" fill="#e2e2e2" />
<rect x="317.10" y="615.64" width="21.60" height="13.30" fill="#e2e2e2" />
<rect x="339.90" y="615.64" width="21.70" height="13.30" fill="#e2e2e2" />
<text x="111.9" y="625.29" font-size="8.4" fill="#231f20" text-anchor="end" textLength="22.0" lengthAdjust="spacingAndGlyphs" >A+Th</text>
<rect x="115.10" y="630.32" width="20.80" height="13.30" fill="#bebebe" />
<rect x="137.10" y="630.32" width="21.40" height="13.30" fill="#bebebe" />
<rect x="159.70" y="630.32" width="21.30" height="13.30" fill="#bebebe" />
<rect x="182.20" y="630.32" width="21.50" height="13.30" fill="#bebebe" />
<rect x="204.90" y="630.32" width="21.50" height="13.30" fill="#bebebe" />
<rect x="227.60" y="630.32" width="21.70" height="13.30" fill="#bebebe" />
<rect x="250.50" y="630.32" width="20.10" height="13.30" fill="#bebebe" />
<rect x="271.80" y="630.32" width="21.40" height="13.30" fill="#bebebe" />
<rect x="294.40" y="630.32" width="21.50" height="13.30" fill="#bebebe" />
<rect x="317.10" y="630.32" width="21.60" height="13.30" fill="#bebebe" />
<rect x="339.90" y="630.32" width="21.70" height="13.30" fill="#bebebe" />
<text x="111.9" y="639.97" font-size="8.4" fill="#231f20" text-anchor="end" textLength="34.699999999999996" lengthAdjust="spacingAndGlyphs" >N+A+Th</text>
<rect x="115.10" y="645.00" width="20.80" height="13.30" fill="#e2e2e2" />
<rect x="137.10" y="645.00" width="21.40" height="13.30" fill="#e2e2e2" />
<rect x="159.70" y="645.00" width="21.30" height="13.30" fill="#e2e2e2" />
<rect x="182.20" y="645.00" width="21.50" height="13.30" fill="#e2e2e2" />
<rect x="204.90" y="645.00" width="21.50" height="13.30" fill="#e2e2e2" />
<rect x="227.60" y="645.00" width="21.70" height="13.30" fill="#e2e2e2" />
<rect x="250.50" y="645.00" width="20.10" height="13.30" fill="#e2e2e2" />
<rect x="271.80" y="645.00" width="21.40" height="13.30" fill="#e2e2e2" />
<rect x="294.40" y="645.00" width="21.50" height="13.30" fill="#e2e2e2" />
<rect x="317.10" y="645.00" width="21.60" height="13.30" fill="#e2e2e2" />
<rect x="339.90" y="645.00" width="21.70" height="13.30" fill="#e2e2e2" />
<text x="111.9" y="654.65" font-size="8.4" fill="#231f20" text-anchor="end" textLength="18.2" lengthAdjust="spacingAndGlyphs" >Emg</text>
<rect x="115.10" y="659.68" width="20.80" height="13.30" fill="#bebebe" />
<rect x="137.10" y="659.68" width="21.40" height="13.30" fill="#bebebe" />
<rect x="159.70" y="659.68" width="21.30" height="13.30" fill="#bebebe" />
<rect x="182.20" y="659.68" width="21.50" height="13.30" fill="#bebebe" />
<rect x="204.90" y="659.68" width="21.50" height="13.30" fill="#bebebe" />
<rect x="227.60" y="659.68" width="21.70" height="13.30" fill="#bebebe" />
<rect x="250.50" y="659.68" width="20.10" height="13.30" fill="#bebebe" />
<rect x="271.80" y="659.68" width="21.40" height="13.30" fill="#bebebe" />
<rect x="294.40" y="659.68" width="21.50" height="13.30" fill="#bebebe" />
<rect x="317.10" y="659.68" width="21.60" height="13.30" fill="#bebebe" />
<rect x="339.90" y="659.68" width="21.70" height="13.30" fill="#bebebe" />
<text x="111.9" y="669.33" font-size="8.4" fill="#231f20" text-anchor="end" textLength="17.1" lengthAdjust="spacingAndGlyphs" >Mnc</text>
<rect x="115.10" y="674.36" width="20.80" height="13.30" fill="#e2e2e2" />
<rect x="137.10" y="674.36" width="21.40" height="13.30" fill="#e2e2e2" />
<rect x="159.70" y="674.36" width="21.30" height="13.30" fill="#e2e2e2" />
<rect x="182.20" y="674.36" width="21.50" height="13.30" fill="#e2e2e2" />
<rect x="204.90" y="674.36" width="21.50" height="13.30" fill="#e2e2e2" />
<rect x="227.60" y="674.36" width="21.70" height="13.30" fill="#e2e2e2" />
<rect x="250.50" y="674.36" width="20.10" height="13.30" fill="#e2e2e2" />
<rect x="271.80" y="674.36" width="21.40" height="13.30" fill="#e2e2e2" />
<rect x="294.40" y="674.36" width="21.50" height="13.30" fill="#e2e2e2" />
<rect x="317.10" y="674.36" width="21.60" height="13.30" fill="#e2e2e2" />
<rect x="339.90" y="674.36" width="21.70" height="13.30" fill="#e2e2e2" />
<text x="111.9" y="684.01" font-size="8.4" fill="#231f20" text-anchor="end" textLength="30.400000000000002" lengthAdjust="spacingAndGlyphs" >No Mef</text>
<circle cx="348.60" cy="578.30" r="6.7" fill="#2e9a2e"/>
<circle cx="124.00" cy="592.98" r="6.7" fill="#2e9a2e"/>
<circle cx="146.90" cy="592.98" r="6.7" fill="#2e9a2e"/>
<circle cx="169.20" cy="592.98" r="6.7" fill="#2e9a2e"/>
<circle cx="192.10" cy="592.98" r="6.7" fill="#2e9a2e"/>
<circle cx="214.50" cy="592.98" r="6.7" fill="#2e9a2e"/>
<circle cx="237.10" cy="592.98" r="6.7" fill="#2e9a2e"/>
<circle cx="261.20" cy="592.98" r="6.7" fill="#2e9a2e"/>
<circle cx="283.10" cy="592.98" r="6.7" fill="#2e9a2e"/>
<circle cx="305.00" cy="592.98" r="6.7" fill="#2e9a2e"/>
<circle cx="326.90" cy="592.98" r="6.7" fill="#2e9a2e"/>
<circle cx="348.60" cy="607.66" r="6.7" fill="#2e9a2e"/>
<circle cx="261.20" cy="622.34" r="6.7" fill="#2e9a2e"/>
<circle cx="283.10" cy="622.34" r="6.7" fill="#2e9a2e"/>
<circle cx="305.00" cy="622.34" r="6.7" fill="#2e9a2e"/>
<circle cx="326.90" cy="622.34" r="6.7" fill="#2e9a2e"/>
<circle cx="124.80" cy="637.02" r="6.7" fill="#2e9a2e"/>
<circle cx="147.70" cy="637.02" r="6.7" fill="#2e9a2e"/>
<circle cx="170.60" cy="637.02" r="6.7" fill="#2e9a2e"/>
<circle cx="193.50" cy="637.02" r="6.7" fill="#2e9a2e"/>
<circle cx="215.80" cy="637.02" r="6.7" fill="#2e9a2e"/>
<circle cx="238.70" cy="637.02" r="6.7" fill="#2e9a2e"/>
<circle cx="348.60" cy="651.70" r="6.7" fill="#2e9a2e"/>
<circle cx="261.20" cy="666.38" r="6.7" fill="#2e9a2e"/>
<circle cx="283.10" cy="666.38" r="6.7" fill="#2e9a2e"/>
<circle cx="305.00" cy="666.38" r="6.7" fill="#2e9a2e"/>
<circle cx="326.90" cy="666.38" r="6.7" fill="#2e9a2e"/>
<circle cx="125.60" cy="681.06" r="6.7" fill="#2e9a2e"/>
<circle cx="148.40" cy="681.06" r="6.7" fill="#2e9a2e"/>
<circle cx="171.20" cy="681.06" r="6.7" fill="#2e9a2e"/>
<circle cx="193.70" cy="681.06" r="6.7" fill="#2e9a2e"/>
<circle cx="216.40" cy="681.06" r="6.7" fill="#2e9a2e"/>
<circle cx="239.20" cy="681.06" r="6.7" fill="#2e9a2e"/>
<line x1="53.8" y1="570.95" x2="115.1" y2="570.95" stroke="#231f20" stroke-width="1.1" />
<line x1="54" y1="600.5" x2="114.7" y2="600.5" stroke="#231f20" stroke-width="1.1" />
<line x1="50.7" y1="642.6" x2="111.7" y2="642.6" stroke="#231f20" stroke-width="1.1" />
<line x1="54" y1="688.4" x2="114.7" y2="688.4" stroke="#231f20" stroke-width="1.1" />
<text x="29.5" y="589.2" font-size="8.4" fill="#231f20" textLength="36" lengthAdjust="spacingAndGlyphs" >Dysplasia</text>
<text x="29.5" y="626.8" font-size="8.4" fill="#231f20" textLength="39.6" lengthAdjust="spacingAndGlyphs" >Cytopenia</text>
<text x="29.5" y="669.1" font-size="8.4" fill="#231f20" textLength="49.3" lengthAdjust="spacingAndGlyphs" >MPN feature</text>
<text x="23.4" y="628.9" font-size="8.6" fill="#231f20" text-anchor="middle" textLength="83.3" lengthAdjust="spacingAndGlyphs" transform="rotate(-90 23.4 628.9)" >Morphological features</text>
<rect x="0.5" y="0.5" width="519" height="695" fill="none" stroke="#000" stroke-width="1"/>
</svg></body></html>
